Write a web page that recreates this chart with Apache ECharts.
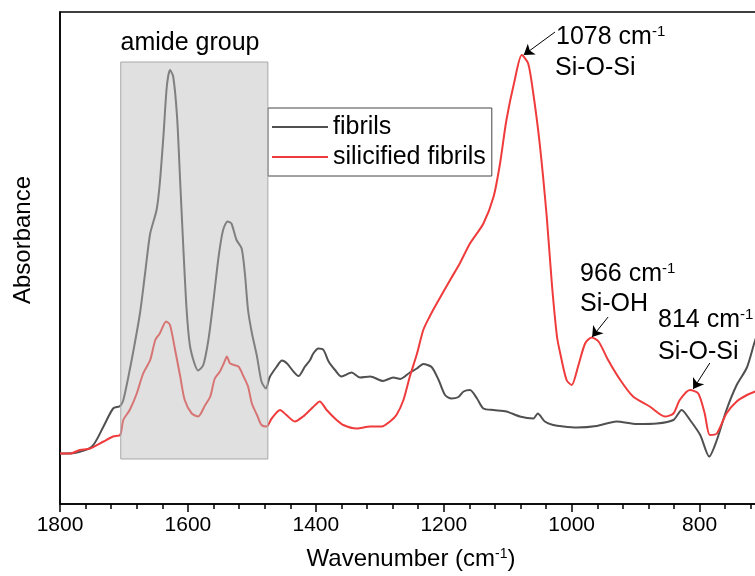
<!DOCTYPE html>
<html><head><meta charset="utf-8">
<script src="https://cdn.jsdelivr.net/npm/echarts@6/dist/echarts.min.js"></script>
<style>html,body{margin:0;padding:0;background:#fff}#c{width:755px;height:576px}</style>
</head><body><div id="c"></div>
<script>
// ---- data (wavenumber in cm-1, absorbance in arbitrary units) ----
const fibrilsWn = [1800,1777,1750,1732,1717,1706,1701,1693,1685,1675,1667,1659,1649,1644,1638,1633,1628,1623,1617,1612,1607,1602,1597,1590,1584,1576,1568,1560,1552,1545,1538,1532,1524,1516,1511,1506,1500,1492,1485,1478,1472,1461,1453,1445,1435,1427,1417,1409,1404,1396,1388,1380,1370,1360,1344,1331,1315,1295,1279,1268,1253,1242,1232,1219,1208,1198,1188,1177,1169,1159,1148,1138,1122,1102,1081,1060,1053,1042,1029,1013,992,961,930,898,867,841,828,815,799,785,773,758,742,726,713,700];
const fibrilsAbs = [.101,.102,.115,.155,.191,.196,.208,.255,.308,.381,.461,.541,.588,.641,.741,.835,.868,.855,.775,.642,.508,.388,.318,.282,.267,.278,.328,.408,.495,.548,.565,.561,.528,.511,.462,.388,.342,.295,.245,.231,.254,.275,.287,.281,.265,.256,.275,.288,.301,.311,.308,.285,.268,.255,.263,.253,.255,.246,.253,.250,.263,.271,.280,.274,.248,.218,.211,.214,.225,.228,.211,.191,.188,.185,.175,.171,.181,.165,.158,.155,.153,.156,.165,.160,.161,.168,.188,.168,.138,.095,.128,.188,.238,.273,.328,.370];
const silicWn = [1800,1784,1769,1753,1732,1717,1706,1701,1691,1680,1670,1659,1651,1644,1634,1628,1620,1612,1605,1594,1584,1573,1565,1558,1550,1544,1539,1534,1521,1513,1506,1500,1492,1485,1477,1469,1456,1446,1433,1420,1409,1401,1394,1383,1370,1357,1336,1315,1297,1284,1274,1263,1253,1242,1232,1222,1211,1190,1175,1159,1138,1122,1112,1102,1089,1078,1068,1060,1050,1039,1031,1023,1018,1008,1000,990,979,969,958,943,924,904,878,854,841,831,815,802,792,784,773,758,742,726,713,700];
const silicAbs = [.101,.101,.108,.111,.125,.135,.138,.168,.188,.221,.261,.288,.328,.341,.365,.358,.308,.255,.208,.181,.175,.198,.215,.251,.265,.281,.295,.281,.275,.255,.235,.201,.178,.158,.155,.171,.188,.178,.165,.175,.188,.198,.205,.188,.171,.158,.151,.155,.155,.165,.178,.208,.255,.300,.348,.375,.401,.448,.481,.521,.561,.615,.681,.768,.848,.898,.881,.821,.721,.575,.441,.335,.302,.248,.238,.275,.321,.333,.325,.288,.248,.215,.195,.175,.181,.208,.228,.221,.181,.138,.141,.181,.205,.218,.225,.230];
const seriesNames = ['fibrils', 'silicified fibrils'];
const amideBand = [1705, 1475];        // cm-1
const amideBandAbs = [0.09, 0.884];
// arrows: [tail, tip] in data coordinates
const arrows = [
  [[1026, 0.944], [1075, 0.898]],
  [[943, 0.374], [968, 0.334]],
  [[784, 0.282], [810, 0.230]]
];
const xMin = 600, xMax = 1800, xStep = 200;

const FONT = '"Liberation Sans", Arial, Helvetica, sans-serif';
const zip = (a, b) => a.map((v, i) => [v, b[i]]);

const chart = echarts.init(document.getElementById('c'), null, {renderer: 'canvas'});
const supRich = (size) => ({
  a: {fontSize: size, fontFamily: FONT, color: '#000'},
  s: {fontSize: Math.round(size * 0.6), fontFamily: FONT, color: '#000', verticalAlign: 'top'}
});
const txt = (x, y, text, align, size) => ({
  type: 'text', x: x, y: y, z: 20,
  style: {text: text, rich: supRich(size), textAlign: align || 'left', textVerticalAlign: 'middle',
          fontSize: size, fontFamily: FONT, fill: '#000'}
});

chart.setOption({
  animation: false,
  backgroundColor: '#fff',
  grid: {left: 60, top: 12, right: -72.5, height: 492, show: true, borderColor: '#000', borderWidth: 1.5,
         containLabel: false, outerBoundsMode: 'none'},
  legend: {
    data: seriesNames, orient: 'vertical', left: 268, top: 108, icon: 'rect',
    itemWidth: 56, itemHeight: 2, itemGap: 4, padding: [6, 6, 6, 4],
    borderColor: '#444', borderWidth: 1, borderRadius: 0, backgroundColor: '#fff',
    textStyle: {fontSize: 25, fontFamily: FONT, color: '#000', lineHeight: 26}
  },
  xAxis: {
    type: 'value', min: xMin, max: xMax, interval: xStep, inverse: true,
    axisLine: {show: true, onZero: false, lineStyle: {color: '#000', width: 1.5}},
    axisTick: {show: true, length: 8, lineStyle: {color: '#000', width: 1.5}},
    minorTick: {show: true, splitNumber: 5, length: 5, lineStyle: {color: '#000', width: 1.5}},
    splitLine: {show: false}, minorSplitLine: {show: false},
    axisLabel: {fontSize: 21, color: '#000', fontFamily: FONT, margin: 11, showMinLabel: false,
                formatter: v => String(v)}
  },
  yAxis: {
    type: 'value', min: 0, max: 0.984,
    axisLine: {show: true, lineStyle: {color: '#000', width: 1.5}},
    axisTick: {show: false}, axisLabel: {show: false}, splitLine: {show: false}
  },
  series: [
    {name: seriesNames[0], type: 'line', data: zip(fibrilsWn, fibrilsAbs), symbol: 'none', z: 2,
     smooth: 0.25, lineStyle: {color: '#505050', width: 2}, itemStyle: {color: '#505050'}},
    {name: seriesNames[1], type: 'line', data: zip(silicWn, silicAbs), symbol: 'none', z: 3,
     smooth: 0.25, lineStyle: {color: '#ef3b3b', width: 2}, itemStyle: {color: '#ef3b3b'}},
    {name: 'overlay', type: 'line', data: [], z: 10, silent: true, symbol: 'none',
     markArea: {silent: true, z: 10,
       itemStyle: {color: 'rgba(186,186,186,0.45)', borderColor: '#a8a8a8', borderWidth: 1},
       data: [[{coord: [amideBand[0], amideBandAbs[0]]}, {coord: [amideBand[1], amideBandAbs[1]]}]]},
     markLine: {silent: true, z: 12, symbol: ['none', 'arrow'], symbolSize: 10,
       lineStyle: {color: '#000', width: 1, type: 'solid'}, label: {show: false},
       emphasis: {disabled: true},
       data: arrows.map(a => [{coord: a[0]}, {coord: a[1]}])}
    }
  ],
  graphic: [
    txt(190, 43, 'amide group', 'center', 25),
    txt(556, 37, '{a|1078 cm}{s|-1}', 'left', 25),
    txt(555, 68, 'Si-O-Si', 'left', 25),
    txt(580, 274, '{a|966 cm}{s|-1}', 'left', 25),
    txt(580, 304, 'Si-OH', 'left', 25),
    txt(658, 320, '{a|814 cm}{s|-1}', 'left', 25),
    txt(658, 352, 'Si-O-Si', 'left', 25),
    txt(411, 559, '{a|Wavenumber (cm}{s|-1}{a|)}', 'center', 24),
    {type: 'text', x: 23, y: 240, rotation: Math.PI / 2, z: 20,
     style: {text: 'Absorbance', fontSize: 24, fontFamily: FONT, fill: '#000', textAlign: 'center', textVerticalAlign: 'middle'}}
  ]
});
</script></body></html>
